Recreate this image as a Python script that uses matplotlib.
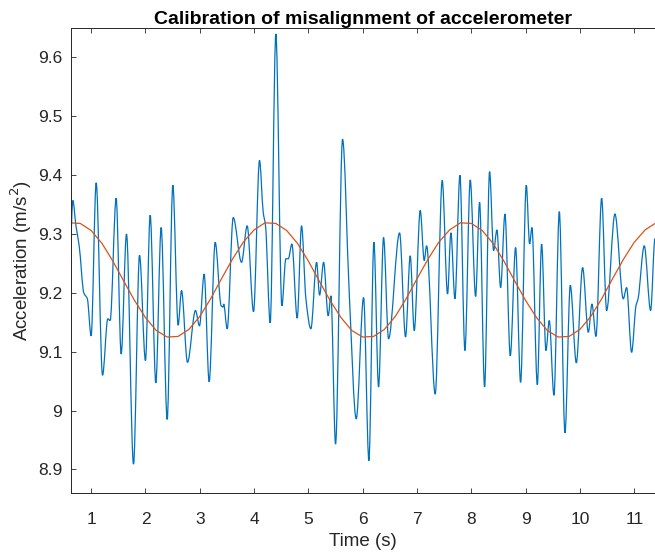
import matplotlib
matplotlib.use("Agg")
import matplotlib.pyplot as plt
from matplotlib.path import Path
from matplotlib.patches import PathPatch

t_meas = [0.62, 0.663, 0.72, 0.78, 0.865, 0.93, 1.0, 1.093, 1.21, 1.307, 1.35,
          1.461, 1.553, 1.651, 1.78, 1.891, 2.0, 2.087, 2.191, 2.289, 2.40,
          2.504, 2.602, 2.664, 2.774, 2.921, 2.995, 3.081, 3.173, 3.284,
          3.394, 3.43, 3.44, 3.505, 3.616, 3.769, 3.873, 3.99, 4.10, 4.168,
          4.211, 4.297, 4.401, 4.512, 4.585, 4.63, 4.696, 4.794, 4.874,
          4.954, 5.046, 5.151, 5.206, 5.28, 5.365, 5.415, 5.50, 5.629, 5.752,
          5.881, 6.016, 6.114, 6.206, 6.292, 6.384, 6.476, 6.679, 6.789,
          6.875, 6.949, 7.059, 7.133, 7.176, 7.335, 7.464, 7.562, 7.624,
          7.698, 7.79, 7.882, 7.98, 8.079, 8.152, 8.244, 8.336, 8.41, 8.471,
          8.539, 8.619, 8.717, 8.815, 8.907, 9.012, 9.073, 9.116, 9.215,
          9.294, 9.374, 9.435, 9.521, 9.62, 9.724, 9.822, 9.933, 10.049,
          10.154, 10.221, 10.295, 10.399, 10.491, 10.644, 10.798, 10.859,
          10.951, 11.031, 11.07, 11.184, 11.301, 11.381, 11.40]
a_meas = [9.269, 9.357, 9.314, 9.280, 9.200, 9.190, 9.127, 9.387, 9.060, 9.156,
          9.153, 9.361, 9.096, 9.300, 8.909, 9.264, 9.085, 9.332, 9.047, 9.311,
          8.985, 9.383, 9.145, 9.204, 9.082, 9.170, 9.144, 9.232, 9.049, 9.286,
          9.178, 9.176, 9.181, 9.139, 9.328, 9.252, 9.314, 9.168, 9.425, 9.337,
          9.314, 9.149, 9.640, 9.178, 9.258, 9.258, 9.283, 9.157, 9.314,
          9.190, 9.139, 9.252, 9.196, 9.252, 9.161, 9.195, 8.943, 9.461, 9.200,
          8.986, 9.192, 8.915, 9.286, 9.040, 9.294, 9.122, 9.302, 9.125,
          9.263, 9.136, 9.340, 9.255, 9.280, 9.028, 9.391, 9.198, 9.302,
          9.190, 9.400, 9.102, 9.392, 9.194, 9.354, 9.040, 9.406, 9.272, 9.307,
          9.209, 9.334, 9.093, 9.277, 9.048, 9.383, 9.283, 9.311, 9.044,
          9.283, 9.102, 9.153, 9.026, 9.338, 8.962, 9.213, 9.081, 9.243,
          9.133, 9.181, 9.126, 9.361, 9.170, 9.334, 9.190, 9.209,
          9.099, 9.178, 9.190, 9.280, 9.170, 9.292, 9.280]

# fitted sinusoid, sampled every 0.2 s
t_fit = [0.6 + 0.2 * i for i in range(55)]
a_fit = [9.319, 9.318,
         9.306, 9.284, 9.254, 9.220, 9.187, 9.158, 9.136, 9.125, 9.126,
         9.138, 9.160, 9.190, 9.224, 9.257, 9.286, 9.307, 9.319, 9.318,
         9.306, 9.284, 9.254, 9.220, 9.187, 9.158, 9.136, 9.125, 9.126,
         9.138, 9.160, 9.190, 9.224, 9.257, 9.286, 9.307, 9.319, 9.318,
         9.306, 9.284, 9.254, 9.220, 9.187, 9.158, 9.136, 9.125, 9.126,
         9.138, 9.160, 9.190, 9.224, 9.257, 9.286, 9.307, 9.319]

x_ticks = [1, 2, 3, 4, 5, 6, 7, 8, 9, 10, 11]
y_ticks = [8.9, 9.0, 9.1, 9.2, 9.3, 9.4, 9.5, 9.6]
y_tick_labels = ["8.9", "9", "9.1", "9.2", "9.3", "9.4", "9.5", "9.6"]


def smooth_path(xs, ys):
  # cubic bezier segments between the read points, flat at peaks/troughs
  n = len(xs)
  slopes = [(ys[i + 1] - ys[i]) / (xs[i + 1] - xs[i]) for i in range(n - 1)]
  tang = [slopes[0]]
  for i in range(1, n - 1):
    d1, d2 = slopes[i - 1], slopes[i]
    if d1 * d2 <= 0:
      tang.append(0.0)
    else:
      tang.append(2.0 / (1.0 / d1 + 1.0 / d2))
  tang.append(slopes[-1])
  verts = [(xs[0], ys[0])]
  codes = [Path.MOVETO]
  for i in range(n - 1):
    h = xs[i + 1] - xs[i]
    verts.append((xs[i] + h / 3, ys[i] + tang[i] * h / 3))
    verts.append((xs[i + 1] - h / 3, ys[i + 1] - tang[i + 1] * h / 3))
    verts.append((xs[i + 1], ys[i + 1]))
    codes += [Path.CURVE4] * 3
  return Path(verts, codes)


plt.rcParams["font.family"] = ["Liberation Sans", "DejaVu Sans"]
ink = "#262626"

fig = plt.figure(figsize=(6.55, 5.55), dpi=100)
ax = fig.add_axes([70.5 / 655, 62 / 555, 585.5 / 655, 465 / 555])

ax.add_patch(PathPatch(smooth_path(t_meas, a_meas), fill=False,
                       edgecolor="#0072BD", lw=0.9))
ax.plot(t_fit, a_fit, color="#D95319", lw=0.9)

ax.set_xlim(0.62, 11.40)
ax.set_ylim(8.86, 9.65)
ax.set_xticks(x_ticks)
ax.set_yticks(y_ticks)
ax.set_yticklabels(y_tick_labels)

ax.tick_params(direction="in", length=3.4, width=0.6, colors=ink,
               labelsize=12.5, top=True, right=False)
ax.tick_params(axis="x", pad=14)
ax.tick_params(axis="y", pad=6)
for side in ["left", "bottom", "top"]:
  ax.spines[side].set_color(ink)
  ax.spines[side].set_linewidth(0.7)
ax.spines["right"].set_visible(False)

ax.set_xlabel("Time (s)", fontsize=13.5, color=ink, labelpad=4)
ax.set_ylabel("Acceleration (m/s$^2$)", fontsize=13.5, color=ink, labelpad=3)
ax.set_title("Calibration of misalignment of accelerometer", fontsize=14,
             fontweight="bold", color="black", pad=3)

fig.savefig("out.png", dpi=100)
